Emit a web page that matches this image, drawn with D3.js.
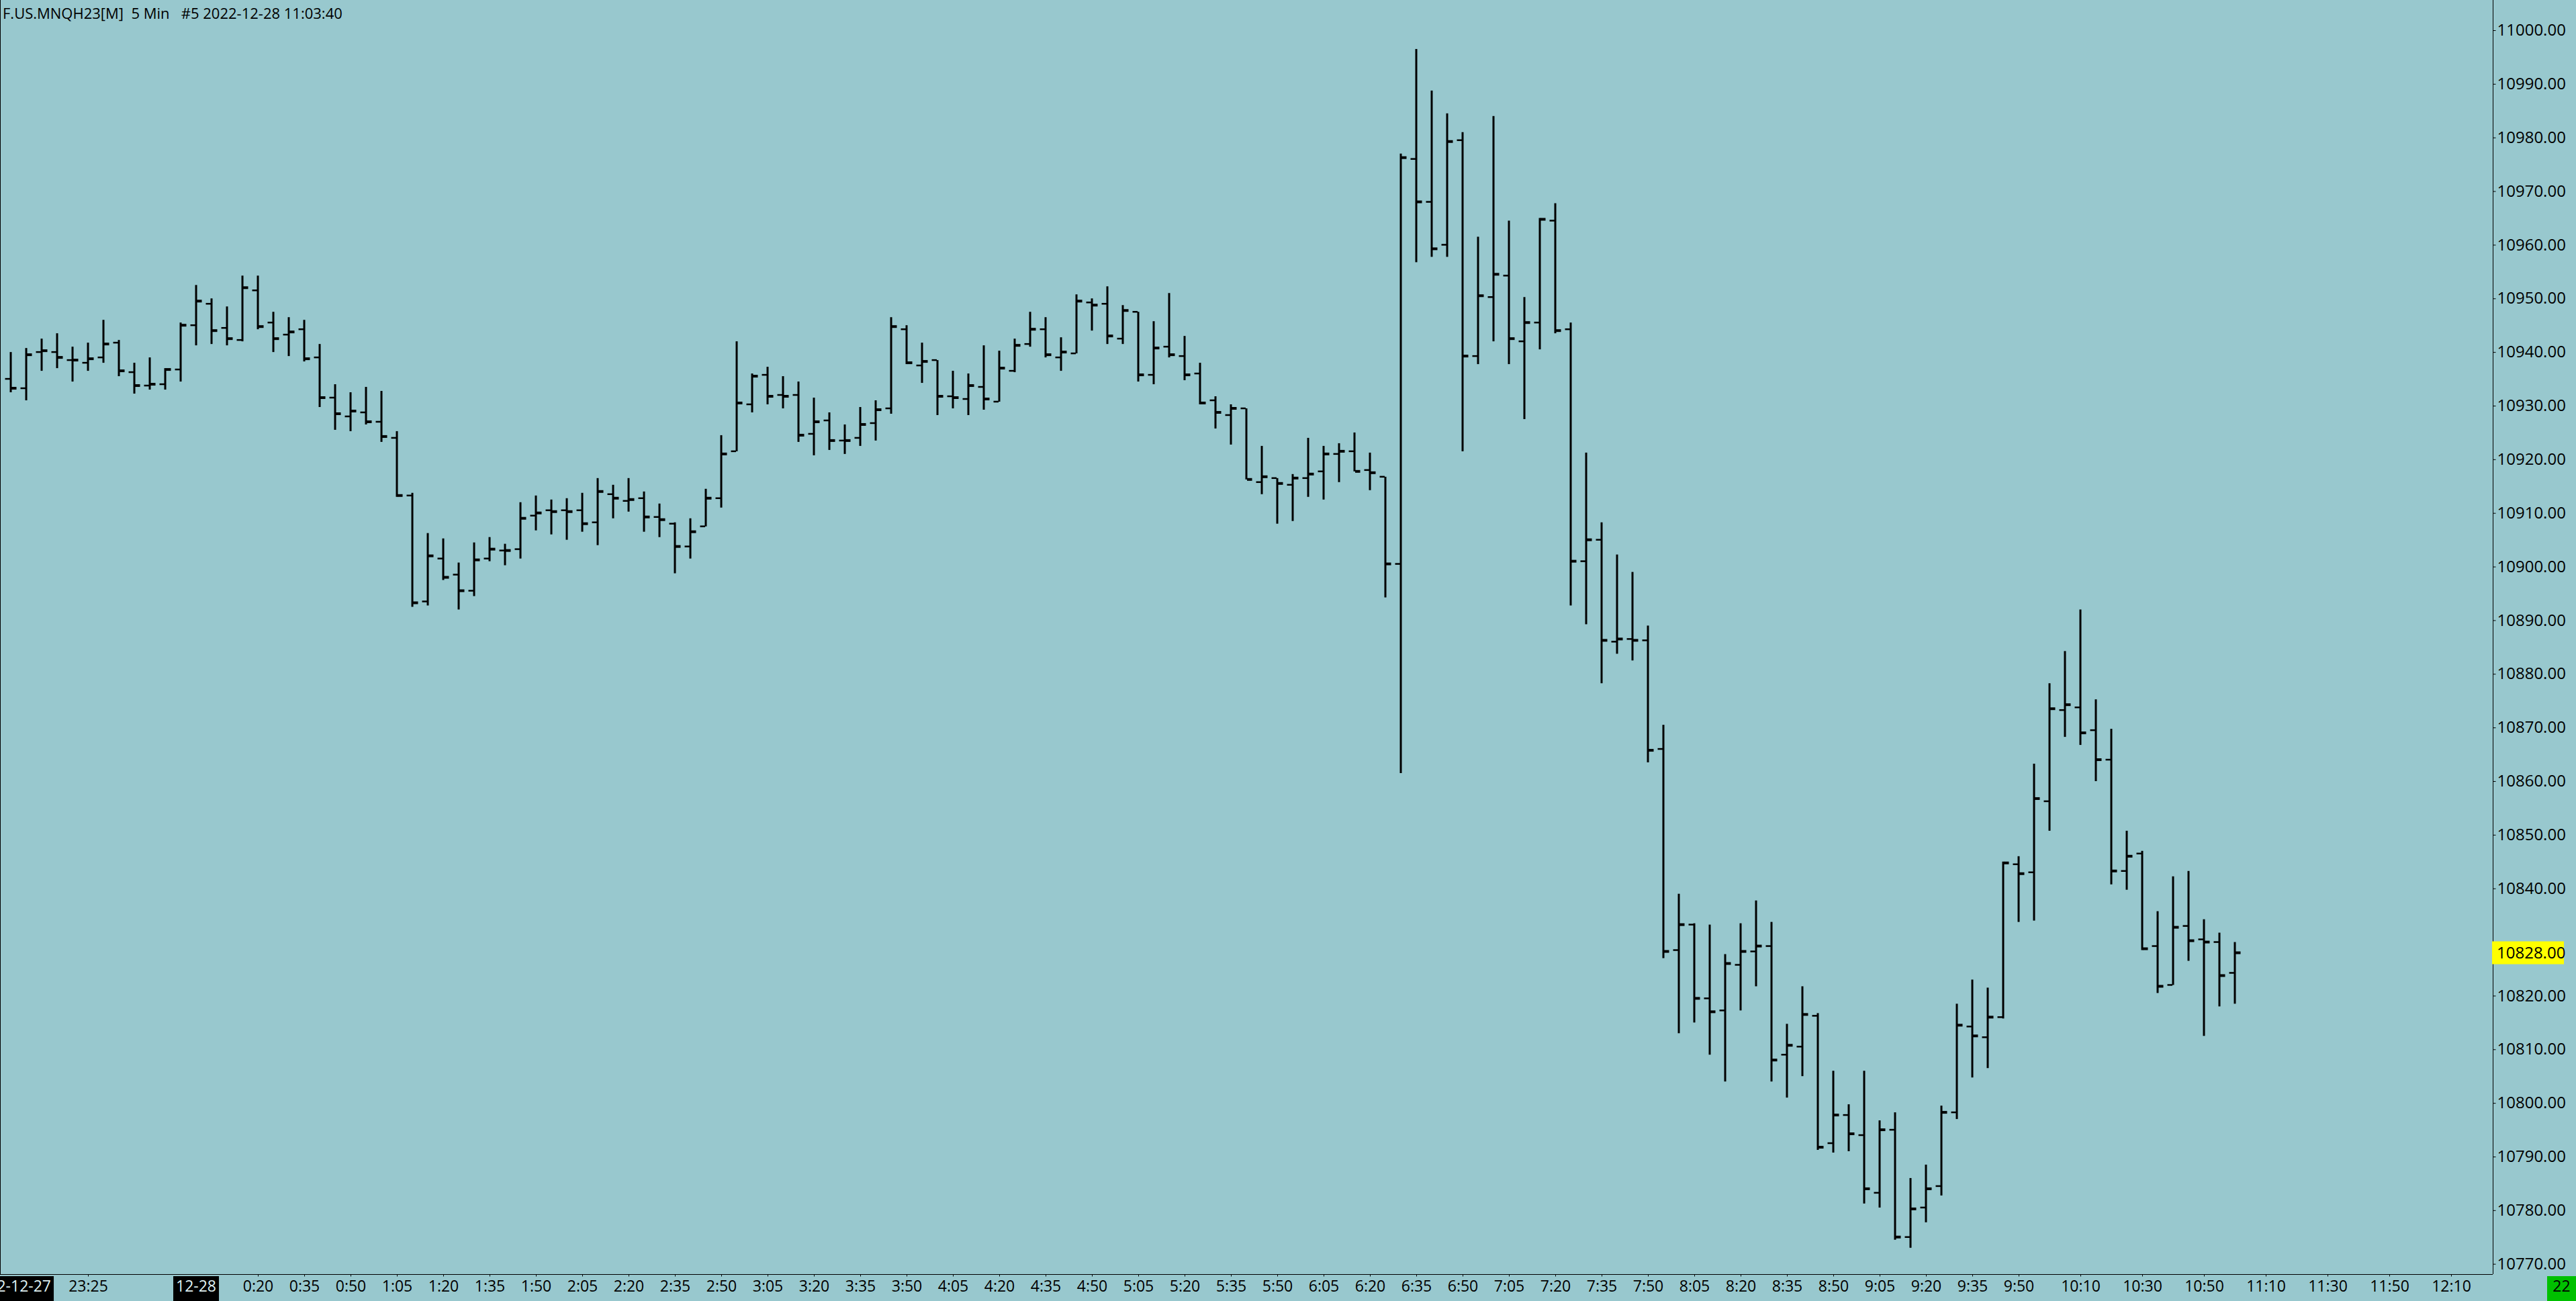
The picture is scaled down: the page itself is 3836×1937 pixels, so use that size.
<!DOCTYPE html>
<html><head><meta charset="utf-8">
<script src="https://cdn.jsdelivr.net/npm/d3@7"></script>
<style>
html,body{margin:0;padding:0;background:#98c8ce;overflow:hidden}
text{font-family:"Open Sans","Noto Sans",sans-serif}
</style>
</head><body>
<svg id="chart" width="3836" height="1937"></svg>
<script>
// ---------------- data ----------------
const title = "F.US.MNQH23[M]  5 Min   #5 2022-12-28 11:03:40";
const firstBarTime = "2022-12-27 23:00:00";
const barMinutes = 5;
const opens = [10935,10933.25,10940,10940,10938.5,10938,10939,10941.75,10936.25,10933.75,10934,10936.75,10945,10949,10944.5,10942.25,10951.5,10945.5,10943.25,10944.25,
10939,10931.5,10928,10928.75,10927,10924,10913.25,10893.5,10901.5,10898.5,10895.5,10901.5,10903,10903.25,10909.5,10910.5,10910.5,10910.5,10908.25,10913.5,
10912.25,10912.75,10909.25,10908,10903.75,10907.5,10912.75,10921.5,10930.25,10935.75,10932,10932,10924.75,10927.25,10923.5,10924,10926.75,10929.5,10944.25,10937.5,
10938.5,10931.75,10931.25,10933.5,10930.75,10936.5,10941.5,10944.25,10939,10939.75,10949.25,10949,10942.5,10947.5,10935.75,10941,10939.25,10936,10931,10928.25,
10929.5,10915.75,10916.5,10915.25,10916.5,10917.75,10921,10921.5,10918,10916.75,10900.5,10976,10968,10960,10979.5,10939.25,10950.25,10954.25,10942,10945.5,
10964.5,10944.25,10901,10905,10886,10886.5,10886.25,10866,10828.5,10833.25,10819.5,10817.25,10825.75,10828.25,10829.25,10809,10810.5,10816.25,10792.5,10797.75,
10794,10783.25,10795,10775,10780.5,10784.5,10798.25,10814.25,10812.25,10816,10844.5,10843,10856.25,10873.25,10873.75,10869.5,10864,10843.25,10846.5,10829.25,
10822,10833,10830.5,10830,10824.25];
const highs = [10940,10940.75,10942.5,10943.5,10941,10941.75,10946,10942.25,10938,10939,10937,10945.5,10952.5,10950,10948.5,10954.25,10954.25,10947.5,10946.5,10946,
10941.5,10934,10932.5,10933.5,10932.75,10925.25,10913.75,10906.25,10905.25,10900.75,10904.5,10905.5,10904.25,10912,10913.25,10912.5,10912.75,10913.75,10916.5,10915.25,
10916.5,10914,10911.75,10908.25,10909,10914.5,10924.5,10942,10936,10937.25,10935.5,10934.5,10931.5,10928.75,10926.5,10929.75,10931,10946.5,10945,10941.75,
10938.5,10936.5,10936,10941.25,10940.25,10942.5,10947.5,10946.5,10942.75,10950.75,10950,10952.25,10948.75,10947.5,10945.75,10951,10943,10938,10931.75,10930.25,
10929.5,10922.5,10916.5,10917.25,10924,10922.5,10923,10925,10921.25,10916.75,10977,10996.5,10988.75,10984.5,10981,10961.5,10984,10964.5,10950.25,10965,
10967.75,10945.5,10921.25,10908.25,10902.25,10899,10889,10870.5,10839,10833.5,10833.25,10827.75,10833.5,10837.75,10833.75,10814.75,10821.75,10816.75,10806,10799.75,
10806,10796.75,10798.25,10786,10788.5,10799.5,10818.5,10823,10821.5,10845,10846,10863.25,10878.25,10884.25,10892,10875.25,10869.75,10850.75,10847,10835.75,
10842.25,10843.25,10834.25,10831.75,10830];
const lows = [10932.5,10931,10936.5,10937,10934.5,10936.5,10938,10935.5,10932.25,10933,10933,10934.5,10941.25,10941.5,10941.25,10942,10944.25,10940,10939.25,10938.25,
10929.75,10925.5,10925.25,10926.5,10923.25,10913,10892.5,10892.75,10897.5,10892,10894.5,10901,10900.25,10901.5,10906.75,10906,10905,10906.5,10904,10909,
10910.25,10906.5,10905.5,10898.75,10901.5,10907.5,10911,10921.5,10928.75,10930.25,10929.5,10923.25,10920.75,10921.75,10921,10922.5,10923.5,10928.5,10937.75,10934.25,
10928.25,10929.5,10928.25,10929.25,10930.75,10936.25,10941,10939,10936.5,10939.75,10944,10941.5,10941.5,10934.5,10934,10939,10934.75,10930.25,10925.75,10922.75,
10916.25,10913.5,10908,10908.5,10913,10912.5,10915.75,10917.75,10914.25,10894.25,10861.5,10956.75,10957.75,10957.75,10921.5,10937.75,10942,10937.75,10927.5,10940.5,
10943.5,10892.75,10889.25,10878.25,10883.75,10882.5,10863.5,10827,10813,10815,10809,10804,10817.25,10821.75,10804,10801,10805,10791.25,10790.75,10791,
10781.25,10780.5,10774.5,10773,10777.75,10782.75,10797,10804.75,10806.5,10815.75,10833.75,10834,10850.75,10868.25,10866.75,10860,10840.75,10839.75,10828.5,10820.5,
10822,10826.5,10812.5,10818,10818.5];
const closes = [10933.25,10939.5,10940.25,10939,10938.5,10938.75,10941.5,10936.5,10933.75,10934,10936.75,10945,10949.5,10944,10942.5,10952,10944.75,10942.5,10943.75,10938.75,
10931.5,10928.5,10929,10927,10924.25,10913.25,10893.25,10902,10898,10895.5,10901.25,10903.25,10903,10909,10910,10910.25,10910.25,10908,10914,10912.75,
10912.5,10909.25,10908.75,10903.75,10906.5,10912.75,10921,10930.5,10935.5,10931.75,10931.75,10924.5,10927,10923.5,10923.5,10926.5,10929.25,10944.75,10938,10938.25,
10931.75,10931.5,10933.75,10931.25,10937,10941.25,10944.25,10939.5,10940,10949.5,10948.75,10943,10947.75,10935.75,10940.75,10939.5,10935.75,10930.5,10928.75,10929.5,
10916.25,10916.75,10915.5,10916.5,10917.25,10921,10921.5,10917.75,10917.5,10900.5,10976.25,10968,10959.25,10979.25,10939.25,10950.5,10954.5,10942.5,10945.5,10964.75,
10944,10901,10905,10886.25,10886.5,10886.25,10865.75,10828.25,10833.25,10819.5,10817,10826,10828.25,10829.25,10808,10810.75,10816.5,10791.75,10797.75,10794.25,
10784,10795,10775,10780.25,10784,10798.25,10814.5,10812.5,10816,10844.75,10842.75,10856.75,10873.5,10874.25,10869,10864,10843.25,10846,10828.75,10821.75,
10832.75,10830.25,10830,10823.75,10828];
const priceTicks = [10770,10780,10790,10800,10810,10820,10830,10840,10850,10860,10870,10880,10890,10900,10910,10920,10930,10940,10950,10960,10970,10980,10990,11000];
const timeTicks = ["2022-12-27 23:25:00","2022-12-28 00:20:00","2022-12-28 00:35:00","2022-12-28 00:50:00","2022-12-28 01:05:00","2022-12-28 01:20:00","2022-12-28 01:35:00",
"2022-12-28 01:50:00","2022-12-28 02:05:00","2022-12-28 02:20:00","2022-12-28 02:35:00","2022-12-28 02:50:00","2022-12-28 03:05:00","2022-12-28 03:20:00","2022-12-28 03:35:00",
"2022-12-28 03:50:00","2022-12-28 04:05:00","2022-12-28 04:20:00","2022-12-28 04:35:00","2022-12-28 04:50:00","2022-12-28 05:05:00","2022-12-28 05:20:00","2022-12-28 05:35:00",
"2022-12-28 05:50:00","2022-12-28 06:05:00","2022-12-28 06:20:00","2022-12-28 06:35:00","2022-12-28 06:50:00","2022-12-28 07:05:00","2022-12-28 07:20:00","2022-12-28 07:35:00",
"2022-12-28 07:50:00","2022-12-28 08:05:00","2022-12-28 08:20:00","2022-12-28 08:35:00","2022-12-28 08:50:00","2022-12-28 09:05:00","2022-12-28 09:20:00","2022-12-28 09:35:00",
"2022-12-28 09:50:00","2022-12-28 10:10:00","2022-12-28 10:30:00","2022-12-28 10:50:00","2022-12-28 11:10:00","2022-12-28 11:30:00","2022-12-28 11:50:00","2022-12-28 12:10:00"];
const timeTickLabels = ["23:25","0:20","0:35","0:50","1:05","1:20","1:35","1:50","2:05","2:20","2:35","2:50","3:05","3:20","3:35","3:50","4:05","4:20","4:35","4:50",
"5:05","5:20","5:35","5:50","6:05","6:20","6:35","6:50","7:05","7:20","7:35","7:50","8:05","8:20","8:35","8:50","9:05","9:20","9:35","9:50",
"10:10","10:30","10:50","11:10","11:30","11:50","12:10"];
const dateTicks = ["2022-12-27 23:00:00","2022-12-28 00:00:00"];
const dateTickLabels = ["2022-12-27","12-28"];
const viewStart = "2022-12-27 22:56:31";
const viewEnd = "2022-12-28 12:23:29";
const lastPrice = 10828.00;
const barCounter = "22";

// ---------------- layout ----------------
const W = 3836, H = 1937;
const plotRight = 3712, plotBottom = 1897;
const bg = "#98c8ce";
const FONT = '"Open Sans","Noto Sans",sans-serif';
const parse = d3.timeParse("%Y-%m-%d %H:%M:%S");
const t0 = parse(firstBarTime);
const bars = opens.map((o, i) => ({
  t: d3.timeMinute.offset(t0, i * barMinutes),
  o, h: highs[i], l: lows[i], c: closes[i]
}));

const x = d3.scaleTime().domain([parse(viewStart), parse(viewEnd)]).range([0, plotRight]);
const y = d3.scaleLinear().domain([10770, 11000]).range([1881.7, 45]);

const svg = d3.select("#chart");
svg.append("rect").attr("width", W).attr("height", H).attr("fill", bg);

// bars
const g = svg.append("g").attr("class", "bars");
const bar = g.selectAll("g").data(bars).join("g");
bar.append("rect")
  .attr("x", d => x(d.t) - 1.5).attr("width", 3)
  .attr("y", d => y(d.h)).attr("height", d => Math.max(1, y(d.l) - y(d.h)))
  .attr("fill", "#000");
bar.append("rect")
  .attr("x", d => x(d.t) - 8.5).attr("width", 7.5)
  .attr("y", d => y(d.o) - 1.25).attr("height", 2.5)
  .attr("fill", "#000");
bar.append("rect")
  .attr("x", d => x(d.t) + 1).attr("width", 7.5)
  .attr("y", d => y(d.c) - 2).attr("height", 4)
  .attr("fill", "#000");

// frame line (left)
svg.append("line").attr("x1", 0.5).attr("x2", 0.5).attr("y1", 0).attr("y2", plotBottom)
  .attr("stroke", "#000").attr("stroke-width", 1);

// y axis (right)
const yAxis = d3.axisRight(y).tickValues(priceTicks).tickFormat(d3.format(".2f")).tickSize(4).tickPadding(2);
const ya = svg.append("g").attr("transform", `translate(${plotRight + 0.5},0)`).call(yAxis);
ya.select(".domain").remove();
ya.append("line").attr("x1", 0).attr("x2", 0).attr("y1", 0).attr("y2", plotBottom).attr("stroke", "#000");
ya.selectAll("text").attr("font-size", 24).attr("fill", "#000").style("font-family", FONT)
  .style("display", d => Math.abs(y(d) - y(lastPrice)) < 22 ? "none" : null);
ya.selectAll(".tick line").attr("stroke", "#000");

// x axis (bottom)
const xAxis = d3.axisBottom(x).tickValues(timeTicks.map(parse))
  .tickFormat((d, i) => timeTickLabels[i]).tickSize(3).tickPadding(4);
const xa = svg.append("g").attr("transform", `translate(0,${plotBottom + 0.5})`).call(xAxis);
xa.select(".domain").remove();
xa.append("line").attr("x1", 0).attr("x2", plotRight).attr("y1", 0).attr("y2", 0).attr("stroke", "#000");
xa.selectAll("text").attr("font-size", 23).attr("fill", "#000")
  .attr("y", 17).attr("dy", "0.35em").style("font-family", FONT);
xa.selectAll(".tick line").attr("stroke", "#000");

// date labels (boxed)
const dl = svg.append("g");
dateTicks.forEach((s, i) => {
  const cx = x(parse(s));
  const gg = dl.append("g");
  const txt = gg.append("text").attr("x", cx).attr("y", plotBottom + 17.5).attr("dy", "0.35em")
    .attr("text-anchor", "middle").attr("font-size", 23).attr("fill", "#dff0f2")
    .style("font-family", FONT).text(dateTickLabels[i]);
  const bb = txt.node().getBBox();
  gg.insert("rect", "text").attr("x", bb.x - 4).attr("y", plotBottom + 3)
    .attr("width", bb.width + 8).attr("height", H - plotBottom - 3).attr("fill", "#000");
});

// last price label
const lp = svg.append("g");
lp.append("rect").attr("x", plotRight - 1).attr("y", y(lastPrice) - 17)
  .attr("width", 107).attr("height", 34).attr("fill", "#ffff00");
lp.append("text").attr("x", plotRight + 6).attr("y", y(lastPrice)).attr("dy", "0.35em")
  .attr("font-size", 24).attr("fill", "#000").style("font-family", FONT).text(d3.format(".2f")(lastPrice));

// bar counter box
const bc = svg.append("g");
bc.append("rect").attr("x", 3793).attr("y", plotBottom + 3).attr("width", 43).attr("height", H - plotBottom - 3).attr("fill", "#00c000");
bc.append("text").attr("x", 3814.5).attr("y", plotBottom + 17.5).attr("dy", "0.35em")
  .attr("text-anchor", "middle").attr("font-size", 23).attr("fill", "#000").style("font-family", FONT).text(barCounter);

// title
svg.append("text").attr("x", 4).attr("y", 28).attr("font-size", 22).attr("fill", "#000")
  .style("font-family", FONT).style("white-space", "pre").attr("xml:space", "preserve").text(title);
</script>
</body></html>
